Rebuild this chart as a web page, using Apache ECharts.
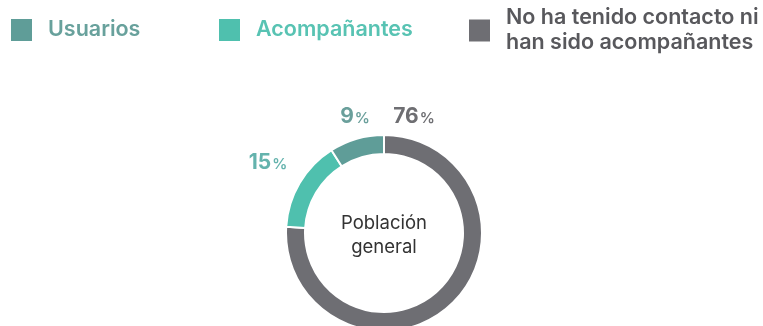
<!DOCTYPE html>
<html>
<head>
<meta charset="utf-8">
<script src="https://cdn.jsdelivr.net/npm/echarts@6/dist/echarts.min.js"></script>
<style>
html,body{margin:0;padding:0;background:#fff;}
#c{width:763px;height:326px;}
</style>
</head>
<body>
<div id="c"></div>
<script>
const categories = ['No ha tenido contacto ni han sido acompañantes', 'Acompañantes', 'Usuarios'];
const values = [76, 15, 9];
const segColors = ['#6e6e73', '#4fc0ae', '#5f9d98'];
const labelColors = ['#6e6e72', '#64b3ad', '#6a9f9b'];
const legendTextColors = ['#58585c', '#58c3b3', '#68a19c'];
const centerText = 'Población\ngeneral';

const chart = echarts.init(document.getElementById('c'));
const labelPos = {};
labelPos[categories[0]] = [414, 117];
labelPos[categories[1]] = [268, 163];
labelPos[categories[2]] = [355, 117];

function legendFor(idx, left, extra) {
  return Object.assign({
    data: [categories[idx]],
    left: left,
    top: 17,
    padding: 0,
    icon: 'rect',
    itemWidth: 23,
    itemHeight: 24,
    selectedMode: false,
    textStyle: {
      fontFamily: 'Inter',
      fontSize: 21.5,
      fontWeight: 600,
      color: legendTextColors[idx],
      padding: [0, 0, 0, 10]
    }
  }, extra || {});
}

chart.setOption({
  animation: false,
  color: segColors,
  legend: [
    legendFor(2, 9),
    legendFor(1, 217),
    legendFor(0, 467, {
      top: 1,
      formatter: function () { return 'No ha tenido contacto ni\nhan sido acompañantes'; },
      textStyle: {
        fontFamily: 'Inter',
        fontSize: 21.5,
        fontWeight: 600,
        color: legendTextColors[0],
        lineHeight: 25,
        padding: [9, 0, 0, 10]
      }
    })
  ],
  graphic: [{
    type: 'text',
    x: 384,
    y: 235,
    style: {
      text: centerText,
      fontFamily: 'Inter',
      fontSize: 18.5,
      lineHeight: 24,
      fill: '#333',
      align: 'center',
      verticalAlign: 'middle'
    }
  }],
  series: [{
    type: 'pie',
    center: [384, 233],
    radius: [79, 98],
    startAngle: 90,
    clockwise: true,
    avoidLabelOverlap: false,
    itemStyle: { borderColor: '#fff', borderWidth: 2 },
    labelLine: { show: false },
    label: {
      show: true,
      position: 'outside',
      formatter: function (p) { return '{v|' + p.value + '}{p|%}'; }
    },
    labelLayout: function (params) {
      const pos = labelPos[categories[params.dataIndex]];
      return { x: pos[0], y: pos[1], align: 'center', verticalAlign: 'middle' };
    },
    data: categories.map(function (c, i) {
      return {
        name: c,
        value: values[i],
        label: {
          rich: {
            v: { fontFamily: 'Inter', fontSize: 21, fontWeight: 700, color: labelColors[i] },
            p: { fontFamily: 'Inter', fontSize: 15, fontWeight: 600, color: labelColors[i], padding: [3, 0, 0, 1] }
          }
        }
      };
    })
  }]
});
</script>
</body>
</html>
